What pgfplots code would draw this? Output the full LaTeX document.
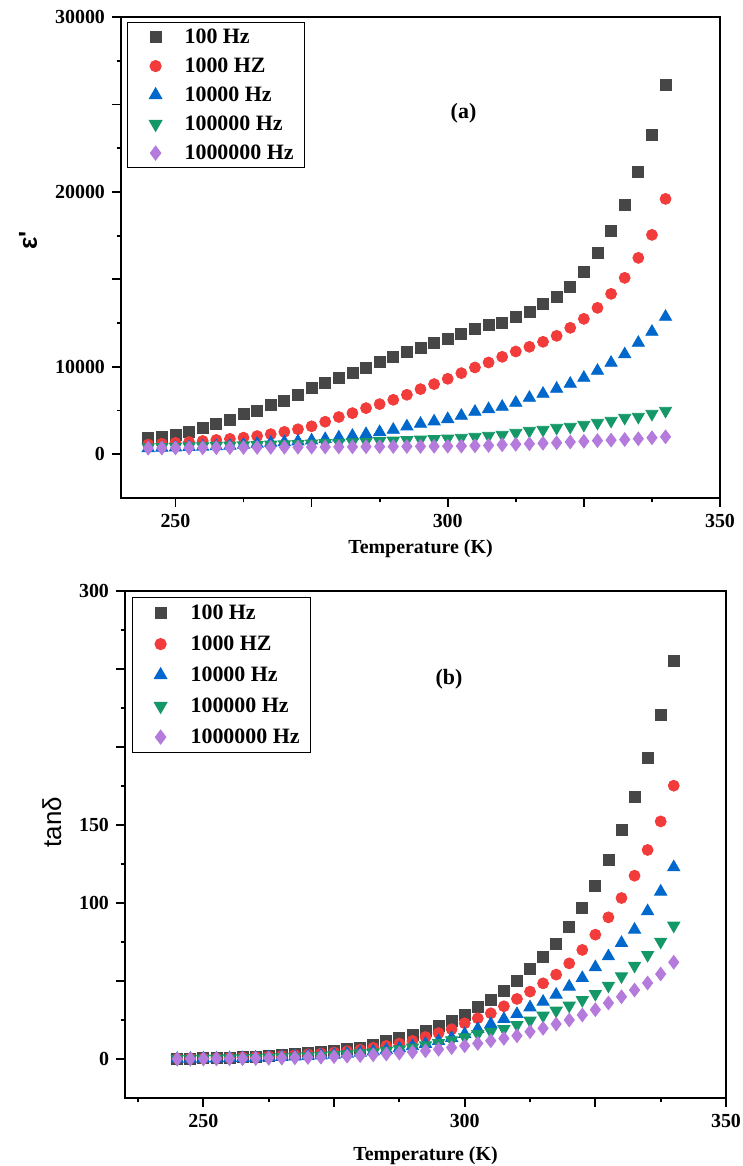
\documentclass[border=0pt]{standalone}
\usepackage{fontspec}
\setmainfont{Liberation Serif}
\newfontfamily\arialfont{Liberation Sans}
\usepackage{pgfplots}
\pgfplotsset{compat=1.18}
\usepackage{pgfplotstable}

\definecolor{cgray}{RGB}{70,70,70}
\definecolor{cred}{RGB}{242,60,60}
\definecolor{cblue}{RGB}{0,104,204}
\definecolor{cgreen}{RGB}{20,152,104}
\definecolor{cpurple}{RGB}{180,122,220}

% Top panel (a): epsilon' (values in the panel's linear tick units)
\pgfplotstableread{
T      f100   f1k    f10k   f100k  f1M
245    5943   5550   5350   5400   5350
247.5  6000   5600   5370   5420   5355
250    6114   5650   5390   5430   5360
252.5  6286   5700   5410   5450   5365
255    6514   5760   5430   5460   5370
257.5  6743   5820   5460   5480   5375
260    6971   5880   5490   5500   5380
262.5  7314   5950   5543   5510   5385
265    7486   6040   5600   5530   5390
267.5  7829   6150   5657   5550   5395
270    8057   6280   5695   5570   5400
272.5  8400   6430   5733   5590   5405
275    8800   6600   5790   5610   5410
277.5  9086   6860   5867   5640   5415
280    9371   7130   5960   5660   5420
282.5  9657   7352   6057   5690   5425
285    9943   7638   6152   5720   5430
287.5  10286  7867   6267   5750   5435
290    10571  8114   6400   5780   5440
292.5  10857  8400   6590   5810   5445
295    11086  8724   6743   5840   5450
297.5  11371  9010   6876   5870   5455
300    11600  9314   7010   5900   5460
302.5  11886  9638   7200   5943   5470
305    12171  9962   7429   6000   5486
307.5  12400  10248  7581   6057   5500
310    12514  10571  7714   6114   5543
312.5  12857  10876  7943   6229   5570
315    13143  11143  8229   6343   5600
317.5  13600  11429  8457   6400   5630
320    14000  11771  8743   6514   5657
322.5  14571  12229  9029   6571   5700
325    15429  12743  9371   6686   5740
327.5  16514  13371  9771   6800   5780
330    17771  14171  10229  6914   5810
332.5  19257  15086  10714  7086   5840
335    21143  16229  11371  7143   5886
337.5  23257  17543  12000  7314   5943
340    26114  19600  12857  7486   6000
}\epsdata

% Bottom panel (b): tan delta
\pgfplotstableread{
T      f100   f1k    f10k   f100k  f1M
245    0.2    0.2    0.1    0.1    0.0
247.5  0.3    0.3    0.2    0.1    0.1
250    0.5    0.4    0.3    0.2    0.1
252.5  0.7    0.6    0.4    0.3    0.2
255    1.0    0.8    0.5    0.4    0.2
257.5  1.2    1.0    0.6    0.5    0.3
260    1.5    1.3    0.8    0.7    0.4
262.5  2.0    1.6    1.0    0.9    0.5
265    2.5    2.0    1.3    1.1    0.6
267.5  3.0    2.5    1.6    1.4    0.8
270    3.7    3.0    1.9    1.7    1.0
272.5  4.7    3.5    2.3    2.0    1.2
275    5.4    4.2    2.8    2.5    1.5
277.5  6.7    5.0    3.4    3.0    1.8
280    7.4    5.9    4.1    3.6    2.2
282.5  9.2    7.2    4.9    4.3    2.7
285    11.4   8.4    5.8    5.2    3.2
287.5  13.4   9.9    6.9    6.2    3.8
290    15.3   11.6   8.2    7.4    4.5
292.5  18.3   14.1   9.7    8.8    5.3
295    21.0   16.6   11.5   10.3   6.2
297.5  24.5   19.1   13.5   12.0   7.3
300    28.4   22.9   16.0   13.9   8.5
302.5  33.1   26.1   19.2   16.0   10.0
305    38.0   29.3   22.4   17.5   11.7
307.5  43.8   33.8   25.6   19.2   13.2
310    50.2   38.5   28.8   21.8   14.9
312.5  57.7   43.2   33.1   24.6   17.5
315    65.6   48.5   36.7   27.8   19.7
317.5  74.1   54.1   41.2   31.0   22.4
320    84.4   61.3   46.4   34.2   25.0
322.5  97.0   69.9   51.9   37.8   28.2
325    111.0  79.7   58.8   41.7   31.6
327.5  127.8  90.8   65.8   47.0   35.9
330    146.8  103.2  74.4   53.0   39.9
332.5  168.0  117.5  82.9   59.8   44.2
335    193.0  134.0  94.7   66.7   48.7
337.5  220.7  152.3  107.3  75.2   54.5
340    255.3  175.2  122.9  85.5   62.0
}\tandata

\pgfplotsset{
  panel/.style={
    scale only axis,
    scaled x ticks=false, scaled y ticks=false,
    axis line style={line width=1bp},
    tick align=outside,
    xtick pos=bottom, ytick pos=left,
    major tick length=4.5bp, minor tick length=2.2bp,
    tick style={line width=0.9bp, black},
    ticklabel style={font=\bfseries\fontsize{10}{12}\selectfont},
    /pgf/number format/assume math mode=true,
    xlabel style={font=\bfseries\fontsize{10}{12}\selectfont, anchor=center},
    ylabel style={font=\arialfont\fontsize{13}{15}\selectfont, anchor=center},
    legend cell align=left,
    legend image code/.code={%
      \path[draw=none,fill=none] (0bp,0bp) (17bp,0bp);
      \draw[mark repeat=2,mark phase=2,##1] plot coordinates {(0bp,0bp) (8.5bp,0bp) (17bp,0bp)};},
  },
  s100/.style={only marks, mark=square*, color=cgray, mark size=2.75bp},
  s1k/.style={only marks, mark=*, color=cred, mark size=2.75bp},
  s10k/.style={only marks, mark=triangle*, color=cblue, mark size=3.5bp},
  s100k/.style={only marks, mark=triangle*, mark options={rotate=180}, color=cgreen, mark size=3.5bp},
  s1M/.style={only marks, mark=diamond*, color=cpurple, mark size=3.4bp},
}

\begin{document}
\begin{tikzpicture}
\useasboundingbox (0,0) rectangle (371.5bp,583bp);

\begin{axis}[panel,
  at={(60.5bp,334bp)}, anchor=south west,
  width=299.5bp, height=240.5bp,
  xmin=240, xmax=350, ymin=2500, ymax=30000,
  xtick={250,275,300,325,350}, xticklabels={250,,300,,350},
  minor xtick={262.5,287.5,312.5,337.5},
  ytick={5000,10000,15000,20000,25000,30000},
  yticklabels={0,10000,,20000,,30000},
  minor ytick={7500,12500,17500,22500,27500},
  xlabel={Temperature (K)},
  xlabel style={at={(axis description cs:0.5,-0.106)}},
  ylabel={\bfseries ε'},
  ylabel style={at={(axis description cs:-0.155,0.536)}},
  legend style={at={(axis description cs:0,1)}, anchor=north west,
    xshift=3bp, yshift=-2.5bp, draw=black, line width=0.6bp, fill=white,
    inner xsep=5.5bp, inner ysep=2.25bp, row sep=4.5bp, column sep=6bp,
    nodes={inner sep=0pt, text height=8bp, text depth=2bp},
    font=\bfseries\fontsize{11}{13}\selectfont},
]
\addplot[s100] table[x=T,y=f100] {\epsdata};
\addlegendentry{100 Hz}
\addplot[s1k] table[x=T,y=f1k] {\epsdata};
\addlegendentry{1000 HZ}
\addplot[s10k] table[x=T,y=f10k] {\epsdata};
\addlegendentry{10000 Hz}
\addplot[s100k] table[x=T,y=f100k] {\epsdata};
\addlegendentry{100000 Hz}
\addplot[s1M] table[x=T,y=f1M] {\epsdata};
\addlegendentry{1000000 Hz}
\node[font=\bfseries\fontsize{11}{13}\selectfont] at (axis cs:302.9,24514) {(a)};
\end{axis}

\begin{axis}[panel,
  at={(62.5bp,34bp)}, anchor=south west,
  width=300.5bp, height=253.5bp,
  xmin=235, xmax=350, ymin=-25, ymax=300,
  xtick={250,275,300,325,350}, xticklabels={250,,300,,350},
  minor xtick={237.5,262.5,287.5,312.5,337.5},
  ytick={0,50,100,150,200,250,300},
  yticklabels={0,,100,150,,,300},
  minor ytick={25,75,125,175,225,275},
  xlabel={Temperature (K)},
  xlabel style={at={(axis description cs:0.5,-0.1144)}},
  ylabel={tanδ},
  ylabel style={at={(axis description cs:-0.1215,0.544)}},
  legend style={at={(axis description cs:0,1)}, anchor=north west,
    xshift=3.5bp, yshift=-3bp, draw=black, line width=0.6bp, fill=white,
    inner xsep=5.5bp, inner ysep=2.75bp, row sep=5.5bp, column sep=6.5bp,
    nodes={inner sep=0pt, text height=8bp, text depth=2bp},
    font=\bfseries\fontsize{11}{13}\selectfont},
]
\addplot[s100] table[x=T,y=f100] {\tandata};
\addlegendentry{100 Hz}
\addplot[s1k] table[x=T,y=f1k] {\tandata};
\addlegendentry{1000 HZ}
\addplot[s10k] table[x=T,y=f10k] {\tandata};
\addlegendentry{10000 Hz}
\addplot[s100k] table[x=T,y=f100k] {\tandata};
\addlegendentry{100000 Hz}
\addplot[s1M] table[x=T,y=f1M] {\tandata};
\addlegendentry{1000000 Hz}
\node[font=\bfseries\fontsize{11}{13}\selectfont] at (axis cs:297,243.6) {(b)};
\end{axis}
\end{tikzpicture}
\end{document}
